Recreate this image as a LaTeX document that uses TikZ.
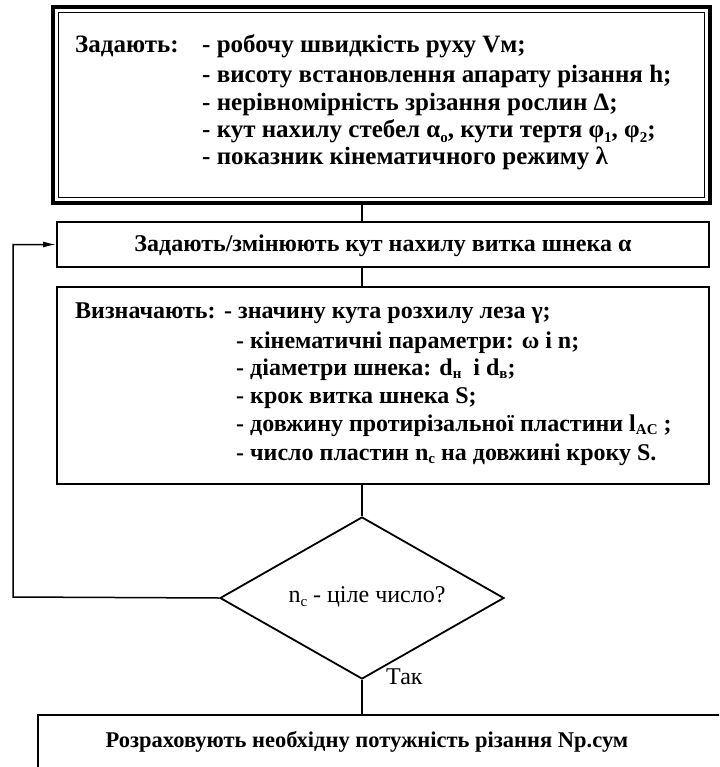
\documentclass[tikz,border=0pt]{standalone}
\usepackage{fontspec}
\setmainfont{Liberation Serif}
\usetikzlibrary{arrows.meta,shapes.geometric}
\newcommand\lsub[1]{\raisebox{-0.35ex}{\fontsize{15}{15}\selectfont #1}}
\begin{document}
\begin{tikzpicture}[x=1pt,y=-1pt,
  txt/.style={anchor=base west, inner sep=0pt, font=\fontsize{24}{24}\selectfont\bfseries},
  ttxt/.style={anchor=base west, inner sep=0pt, font=\fontsize{25}{25}\selectfont\bfseries},
  ctxt/.style={anchor=center, inner sep=0pt, font=\fontsize{24}{24}\selectfont\bfseries},
  rtxt/.style={inner sep=0pt, font=\fontsize{24}{24}\selectfont},
  box/.style={draw, line width=1.8pt, inner sep=0pt},
  conn/.style={line width=1.5pt}]
\useasboundingbox (0,0) rectangle (719,767);
\clip (0,0) rectangle (719,767);
% boxes
\node[box, line width=4.5pt, minimum width=657pt, minimum height=196pt] (b1) at (381.5,105) {};
\draw[line width=1.3pt] ([shift={(8,8)}]b1.north west) rectangle ([shift={(-8,-8)}]b1.south east);
\node[box, minimum width=652pt, minimum height=45pt] (b2) at (383,244.5) {};
\node[box, minimum width=652pt, minimum height=197pt] (b3) at (383,385.5) {};
\node[draw, line width=1.8pt, shape=diamond, inner sep=0pt, minimum width=284pt, minimum height=162pt] (dia) at (362,598) {};
\node[box, minimum width=692pt, minimum height=65pt] (b4) at (384,747.5) {};
% texts top box
\node[ttxt] (t1) at (75,53) {Задають:};
\node[ttxt] (t11) at (202,53) {- робочу швидкість руху Vм;};
\node[ttxt] (t12) at (202,83) {- висоту встановлення апарату різання h;};
\node[ttxt] (t13) at (202,111) {- нерівномірність зрізання рослин Δ;};
\node[ttxt] (t14) at (202,138) {- кут нахилу стебел α\lsub{о}, кути тертя φ\lsub{1}, φ\lsub{2};};
\node[ttxt] (t15) at (202,165) {- показник кінематичного режиму λ};
% middle
\node[ctxt] (t2) at (383,246) {Задають/змінюють кут нахилу витка шнека α};
% third
\node[txt] (t3) at (75,318) {Визначають:};
\node[txt] (t31) at (224,318) {- значину кута розхилу леза γ;};
\node[txt] (t32) at (236,348) {- кінематичні параметри: ω і n;};
\node[txt] (t33) at (236,375) {- діаметри шнека: d\lsub{н}\ \ і d\lsub{в};};
\node[txt] (t34) at (236,403) {- крок витка шнека S;};
\node[txt] (t35) at (236,431) {- довжину протирізальної пластини l\lsub{AC} ;};
\node[txt] (t36) at (236,460) {- число пластин n\lsub{c} на довжині кроку S.};
% diamond and bottom
\node[rtxt] (t4) at (367,597) {n\lsub{c} - ціле число?};
\node[rtxt, anchor=west] (yes) at (386,677) {Так};
\node[ctxt, font=\fontsize{22.5}{22.5}\selectfont\bfseries] (t5) at (367,742) {Розраховують необхідну потужність різання Np.сум};
% connectors
\draw[conn] (b1.south -| dia.north) -- (b2.north -| dia.north);
\draw[conn] (b2.south -| dia.north) -- (b3.north -| dia.north);
\draw[conn] (b3.south -| dia.north) -- (dia.north);
\draw[conn] (dia.south) -- (b4.north -| dia.south);
\coordinate (lp) at (13,597);
\draw[conn, -{Latex[length=13pt,width=6pt]}] (dia.west) -- (lp) |- (b2.west);
\end{tikzpicture}
\end{document}
